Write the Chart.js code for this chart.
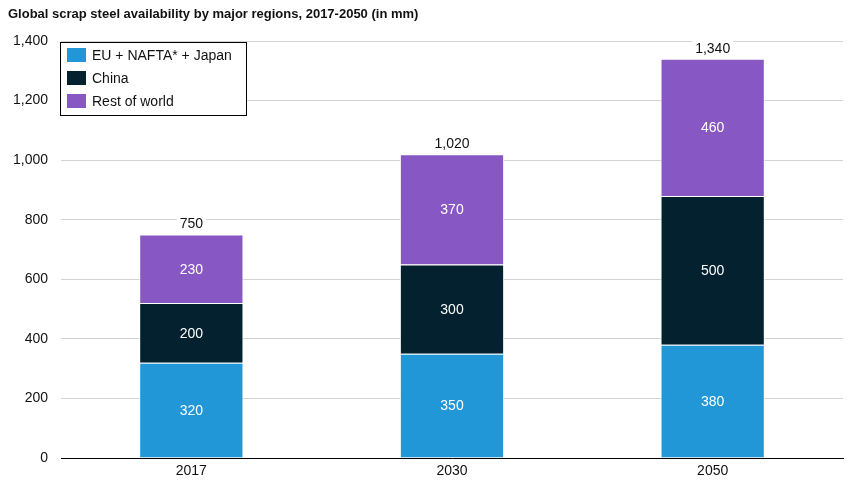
<!DOCTYPE html>
<html lang="en">
  <head>
    <meta charset="UTF-8" />
    <title>Global scrap steel availability</title>
    <style>
      html, body {
        margin: 0;
        padding: 0;
        background: #ffffff;
      }
      #wrap {
        width: 855px;
        height: 484px;
        position: relative;
      }
    </style>
  </head>
  <body>
    <div id="wrap">
      <canvas id="scrapChart" width="855" height="484"></canvas>
    </div>

    <script src="https://cdn.jsdelivr.net/npm/chart.js@4.4.0/dist/chart.umd.min.js"></script>
    <script>
      // chart data
      const years = ["2017", "2030", "2050"];
      const seriesNames = ["EU + NAFTA* + Japan", "China", "Rest of world"];
      const euNaftaJapan = [320, 350, 380];
      const china = [200, 300, 500];
      const restOfWorld = [230, 370, 460];
      const totals = [750, 1020, 1340];
      const yTicks = [0, 200, 400, 600, 800, 1000, 1200, 1400];

      const colors = ["#2197d8", "#03212f", "#8757c4"];
      const FONT = "Liberation Sans, Arial, Helvetica, sans-serif";
      const fmt = (v) => v.toLocaleString("en-US");

      // title at top left
      const titlePlugin = {
        id: "titleText",
        afterDraw(chart) {
          const ctx = chart.ctx;
          ctx.save();
          ctx.font = "bold 13px " + FONT;
          ctx.fillStyle = "#111";
          ctx.textBaseline = "middle";
          ctx.textAlign = "left";
          ctx.fillText(
            "Global scrap steel availability by major regions, 2017-2050 (in mm)",
            8,
            14
          );
          ctx.restore();
        },
      };

      // value labels in segments + totals on top
      const labelPlugin = {
        id: "valueLabels",
        afterDatasetsDraw(chart) {
          const ctx = chart.ctx;
          ctx.save();
          ctx.font = "14px " + FONT;
          ctx.textAlign = "center";
          ctx.textBaseline = "middle";
          chart.data.datasets.forEach((ds, i) => {
            const meta = chart.getDatasetMeta(i);
            meta.data.forEach((bar, j) => {
              const y = (bar.y + bar.base) / 2;
              ctx.fillStyle = "#ffffff";
              ctx.fillText(fmt(ds.data[j]), bar.x, y + 1);
            });
          });
          const top = chart.getDatasetMeta(chart.data.datasets.length - 1);
          top.data.forEach((bar, j) => {
            const y = chart.scales.y.getPixelForValue(totals[j]) - 11;
            const txt = fmt(totals[j]);
            const w = ctx.measureText(txt).width;
            ctx.fillStyle = "#ffffff";
            ctx.fillRect(bar.x - w / 2 - 3, y - 8, w + 6, 16);
            ctx.fillStyle = "#111";
            ctx.fillText(txt, bar.x, y + 1);
          });
          ctx.restore();
        },
      };

      // boxed legend inside the plot, top left
      const legendPlugin = {
        id: "boxLegend",
        afterDraw(chart) {
          const ctx = chart.ctx;
          const x0 = 60.5, y0 = 42.5, w = 186, h = 73;
          ctx.save();
          ctx.fillStyle = "#ffffff";
          ctx.fillRect(x0, y0, w, h);
          ctx.strokeStyle = "#000";
          ctx.lineWidth = 1;
          ctx.strokeRect(x0, y0, w, h);
          ctx.font = "14px " + FONT;
          ctx.textBaseline = "middle";
          ctx.textAlign = "left";
          chart.data.datasets.forEach((ds, i) => {
            const ry = 48 + i * 23;
            ctx.fillStyle = ds.backgroundColor;
            ctx.fillRect(67, ry, 19, 14);
            ctx.fillStyle = "#111";
            ctx.fillText(ds.label, 92, ry + 8);
          });
          ctx.restore();
        },
      };

      const chart = new Chart(document.getElementById("scrapChart"), {
        type: "bar",
        data: {
          labels: years,
          datasets: [euNaftaJapan, china, restOfWorld].map((vals, i) => ({
            label: seriesNames[i],
            data: vals,
            backgroundColor: colors[i],
            borderColor: "#ffffff",
            borderWidth: 1,
            borderSkipped: "start",
            categoryPercentage: 1,
            barPercentage: 0.4,
          })),
        },
        options: {
          responsive: false,
          animation: false,
          layout: { padding: { top: 41, right: 12, left: 0, bottom: 0 } },
          plugins: {
            legend: { display: false },
            tooltip: { enabled: false },
            title: { display: false },
          },
          scales: {
            x: {
              stacked: true,
              grid: { display: false, drawTicks: false },
              border: { display: true, color: "#000", width: 1 },
              ticks: {
                color: "#111",
                font: { family: FONT, size: 14 },
                padding: 5,
              },
              afterFit(scale) {
                scale.height = 26;
              },
            },
            y: {
              stacked: true,
              min: 0,
              max: 1400,
              afterBuildTicks(scale) {
                scale.ticks = yTicks.map((v) => ({ value: v }));
              },
              grid: { color: "#d3d3d3", drawTicks: false },
              border: { display: false },
              ticks: {
                color: "#111",
                font: { family: FONT, size: 14 },
                padding: 13,
                callback: (v) => fmt(v),
              },
              afterFit(scale) {
                scale.width = 61;
              },
            },
          },
        },
        plugins: [titlePlugin, labelPlugin, legendPlugin],
      });
    </script>
  </body>
</html>
